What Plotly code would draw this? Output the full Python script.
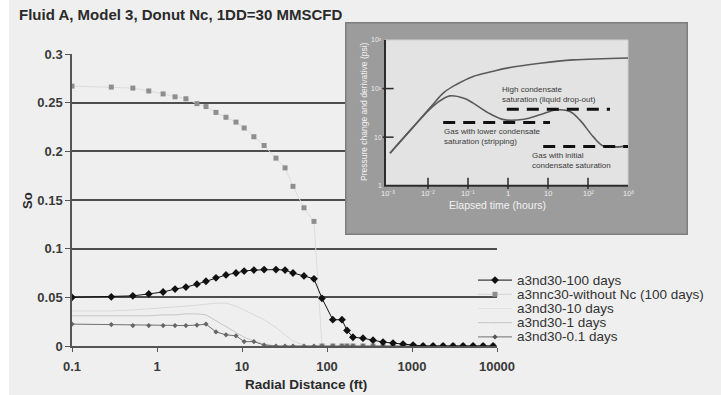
import math
import plotly.graph_objects as go

W, H = 721, 395

# ---------------- main chart data ----------------
radius_ft = [0.1, 0.29, 0.52, 0.8, 1.18, 1.63, 2.19, 2.95, 3.77, 4.94, 6.48, 8.5, 10.6, 13.8,
             18.2, 25.1, 32.1, 39.8, 53.6, 70.3, 87.3, 117, 150, 172, 202, 265, 348, 456, 598,
             784, 1030, 1350, 1770, 2320, 3040, 3990, 5230, 6860, 9000]

so_100d = [0.050, 0.0505, 0.0515, 0.0535, 0.0555, 0.0585, 0.0605, 0.0635, 0.0665, 0.070, 0.073,
           0.075, 0.077, 0.078, 0.0785, 0.0785, 0.078, 0.075, 0.072, 0.069, 0.049, 0.027, 0.027,
           0.016, 0.009, 0.008, 0.006, 0.004, 0.003, 0.002, 0.001, 0, 0, 0, 0, 0, 0, 0, 0]

so_no_nc = [0.267, 0.266, 0.265, 0.262, 0.259, 0.256, 0.254, 0.249, 0.246, 0.240, 0.235, 0.230,
            0.224, 0.215, 0.206, 0.193, 0.183, 0.164, 0.142, 0.128, 0, 0, 0, 0, 0, 0, 0, 0, 0,
            0, 0, 0, 0, 0, 0, 0, 0, 0, 0]

so_10d = [0.036, 0.036, 0.037, 0.038, 0.039, 0.040, 0.041, 0.042, 0.043, 0.044, 0.044, 0.041,
          0.037, 0.032, 0.027, 0.019, 0.011, 0.005, 0.001, 0, 0, 0, 0, 0, 0, 0, 0, 0, 0, 0, 0,
          0, 0, 0, 0, 0, 0, 0, 0]

so_1d = [0.031, 0.031, 0.031, 0.031, 0.032, 0.032, 0.033, 0.033, 0.032, 0.026, 0.020, 0.014,
         0.009, 0.005, 0.002, 0, 0, 0, 0, 0, 0, 0, 0, 0, 0, 0, 0, 0, 0, 0, 0, 0, 0, 0, 0, 0,
         0, 0, 0]

so_01d = [0.0225, 0.022, 0.021, 0.021, 0.021, 0.021, 0.021, 0.0215, 0.0225, 0.0145, 0.0115,
          0.0105, 0.0045, 0.0045, 0.001, 0, 0, 0, 0, 0, 0, 0, 0, 0, 0, 0, 0, 0, 0, 0, 0, 0, 0,
          0, 0, 0, 0, 0, 0]

series_names = ["a3nd30-100 days", "a3nnc30-without Nc (100 days)", "a3nd30-10 days",
                "a3nd30-1 days", "a3nd30-0.1 days"]

x_tick_vals = [0.1, 1, 10, 100, 1000, 10000]
x_tick_text = ["0.1", "1", "10", "100", "1000", "10000"]
y_tick_vals = [0, 0.05, 0.1, 0.15, 0.2, 0.25, 0.3]
y_tick_text = ["0", "0.05", "0.1", "0.15", "0.2", "0.25", "0.3"]

# ---------------- inset (pasted well-test picture) data ----------------
inset_t_dp = [10**-2.95, 10**-2.4, 10**-1.9, 10**-1.6, 10**-1.3, 10**-0.87, 10**-0.4, 10**-0.03,
              10**0.8, 10**1.63, 10**3.0]
inset_dp = [10**0.67, 10**1.18, 10**1.65, 10**1.92, 10**2.08, 10**2.25, 10**2.35, 10**2.42,
            10**2.52, 10**2.59, 10**2.63]
inset_t_der = [10**-2.95, 10**-2.4, 10**-1.9, 10**-1.6, 10**-1.45, 10**-1.1, 10**-0.87, 10**-0.45,
               10**-0.1, 10**0.4, 10**0.8, 10**1.2, 10**1.55, 10**1.8, 10**2.13, 10**2.38, 10**3.0]
inset_der = [10**0.67, 10**1.18, 10**1.62, 10**1.80, 10**1.85, 10**1.80, 10**1.70, 10**1.48,
             10**1.36, 10**1.37, 10**1.46, 10**1.56, 10**1.53, 10**1.35, 10**1.01, 10**0.82,
             10**0.82]
dash_high_t = [10**-0.03, 10**2.55]
dash_high_v = 10**1.574
dash_low_t = [10**-1.62, 10**1.05]
dash_low_v = 10**1.30
dash_init_t = [10**0.88, 10**3.0]
dash_init_v = 10**0.805
inset_x_ticks = [1e-3, 1e-2, 1e-1, 1, 10, 100, 1000]
inset_x_text = ["10⁻³", "10⁻²", "10⁻¹", "1", "10", "10²", "10³"]
inset_y_ticks = [1, 10, 100, 1000]
inset_y_text = ["1", "10", "10²", "10³"]


def pxx(px):
    return px / W


def pxy(py):
    return 1 - py / H


FONT = "Liberation Sans, Arial, sans-serif"
GRID = "#4e4e4e"
TXT = "#333333"

fig = go.Figure()

# ---- main series ----
fig.add_trace(go.Scatter(x=radius_ft, y=so_10d, mode="lines", line=dict(color="#dadada", width=1),
                         showlegend=False, xaxis="x", yaxis="y"))
fig.add_trace(go.Scatter(x=radius_ft, y=so_1d, mode="lines", line=dict(color="#c6c6c6", width=1),
                         showlegend=False, xaxis="x", yaxis="y"))
fig.add_trace(go.Scatter(x=radius_ft, y=so_no_nc, mode="lines+markers",
                         line=dict(color="#dcdcdc", width=1),
                         marker=dict(symbol="square", size=5, color="#8e8e8e"),
                         showlegend=False, xaxis="x", yaxis="y"))
fig.add_trace(go.Scatter(x=radius_ft, y=so_01d, mode="lines+markers",
                         line=dict(color="#707070", width=1),
                         marker=dict(symbol="diamond", size=4, color="#666666"),
                         showlegend=False, xaxis="x", yaxis="y"))
fig.add_trace(go.Scatter(x=radius_ft, y=so_100d, mode="lines+markers",
                         line=dict(color="#111111", width=1),
                         marker=dict(symbol="diamond", size=6, color="#111111"),
                         showlegend=False, xaxis="x", yaxis="y"))

# ---- inset picture (drawn on its own axes so it covers the grid) ----
fx0, fx1, fy0, fy1 = 10**-4.075, 10**4.5, 10**-1.014, 10**3.37
ix0, ix1, iy0, iy1 = 10**-3.075, 10**3.0, 1, 1000
fig.add_trace(go.Scatter(x=[fx0, fx1, fx1, fx0, fx0], y=[fy0, fy0, fy1, fy1, fy0], fill="toself",
                         fillcolor="#9c9c9c", mode="lines", line=dict(color="#7e7e7e", width=3),
                         showlegend=False, hoverinfo="skip", xaxis="x2", yaxis="y2"))
fig.add_trace(go.Scatter(x=[ix0, ix1, ix1, ix0, ix0], y=[iy0, iy0, iy1, iy1, iy0], fill="toself",
                         fillcolor="#e3e3e3", mode="lines", line=dict(color="#cfcfcf", width=1),
                         showlegend=False, hoverinfo="skip", xaxis="x2", yaxis="y2"))
fig.add_trace(go.Scatter(x=[ix0, ix0, ix1], y=[iy1, iy0, iy0], mode="lines",
                         line=dict(color="#2b2b2b", width=2),
                         showlegend=False, hoverinfo="skip", xaxis="x2", yaxis="y2"))
fig.add_trace(go.Scatter(x=inset_x_ticks[1:-1], y=[10**0.05] * 5, mode="markers",
                         marker=dict(symbol="line-ns", size=8, line=dict(color="#2b2b2b", width=1.5)),
                         showlegend=False, hoverinfo="skip", xaxis="x2", yaxis="y2"))
fig.add_trace(go.Scatter(x=[10**-3.0] * 2, y=inset_y_ticks[1:3], mode="markers",
                         marker=dict(symbol="line-ew", size=8, line=dict(color="#2b2b2b", width=1.5)),
                         showlegend=False, hoverinfo="skip", xaxis="x2", yaxis="y2"))
fig.add_trace(go.Scatter(x=inset_t_dp, y=inset_dp, mode="lines", line=dict(color="#5a5a5a", width=1.6, shape="spline"),
                         showlegend=False, hoverinfo="skip", xaxis="x2", yaxis="y2"))
fig.add_trace(go.Scatter(x=inset_t_der, y=inset_der, mode="lines", line=dict(color="#5a5a5a", width=1.6, shape="spline"),
                         showlegend=False, hoverinfo="skip", xaxis="x2", yaxis="y2"))
for xs, v in [(dash_high_t, dash_high_v), (dash_low_t, dash_low_v), (dash_init_t, dash_init_v)]:
    fig.add_trace(go.Scatter(x=xs, y=[v, v], mode="lines",
                             line=dict(color="#111111", width=3, dash="12px,8px"),
                             showlegend=False, hoverinfo="skip", xaxis="x2", yaxis="y2"))

# ---- hand-built legend (on its own hidden axes) ----
leg_styles = [
    dict(line=dict(color="#111111", width=1), marker=dict(symbol="diamond", size=6, color="#111111")),
    dict(line=dict(color="#d4d4d4", width=1), marker=dict(symbol="square", size=5, color="#8e8e8e")),
    dict(line=dict(color="#e2e2e2", width=1), marker=dict(size=1, color="#e2e2e2")),
    dict(line=dict(color="#c6c6c6", width=1), marker=dict(size=1, color="#c6c6c6")),
    dict(line=dict(color="#707070", width=1), marker=dict(symbol="diamond", size=4, color="#555555")),
]
annotations = []
for i, (name, st) in enumerate(zip(series_names, leg_styles)):
    fig.add_trace(go.Scatter(x=[478, 495, 512], y=[i, i, i], mode="lines",
                             line=st["line"], showlegend=False, hoverinfo="skip",
                             xaxis="x3", yaxis="y3"))
    fig.add_trace(go.Scatter(x=[495], y=[i], mode="markers", marker=st["marker"],
                             showlegend=False, hoverinfo="skip", xaxis="x3", yaxis="y3"))
    annotations.append(dict(x=515, y=i, xref="x3", yref="y3", text=name, showarrow=False,
                            xanchor="left", yanchor="middle",
                            font=dict(family=FONT, size=13.5, color=TXT)))

# ---- texts ----
annotations += [
    dict(x=pxx(17), y=pxy(15), xref="paper", yref="paper", text="Fluid A, Model 3, Donut Nc, 1DD=30 MMSCFD",
         showarrow=False, xanchor="left", yanchor="middle",
         font=dict(family=FONT, size=15, color="#2a2a2a", weight="bold")),
    dict(x=pxx(306), y=pxy(384), xref="paper", yref="paper", text="Radial Distance (ft)",
         showarrow=False, xanchor="center", yanchor="middle",
         font=dict(family=FONT, size=13.5, color="#2a2a2a", weight="bold")),
    dict(x=pxx(27), y=pxy(200), xref="paper", yref="paper", text="So", textangle=-90,
         showarrow=False, xanchor="center", yanchor="middle",
         font=dict(family=FONT, size=13, color="#2a2a2a", weight="bold")),
    # inset texts
    dict(x=pxx(364), y=pxy(112), xref="paper", yref="paper", text="Pressure change and derivative (psi)",
         textangle=-90, showarrow=False, xanchor="center", yanchor="middle",
         font=dict(family=FONT, size=8.5, color="#f2f2f2")),
    dict(x=pxx(497), y=pxy(205), xref="paper", yref="paper", text="Elapsed time (hours)",
         showarrow=False, xanchor="center", yanchor="middle",
         font=dict(family=FONT, size=10.5, color="#f2f2f2")),
    dict(x=pxx(500), y=pxy(95), xref="paper", yref="paper",
         text="High condensate<br>saturation (liquid drop-out)", align="left",
         showarrow=False, xanchor="left", yanchor="middle",
         font=dict(family=FONT, size=8, color="#3a3a3a")),
    dict(x=pxx(442), y=pxy(136), xref="paper", yref="paper",
         text="Gas with lower condensate<br>saturation (stripping)", align="left",
         showarrow=False, xanchor="left", yanchor="middle",
         font=dict(family=FONT, size=8, color="#3a3a3a")),
    dict(x=pxx(530), y=pxy(161), xref="paper", yref="paper",
         text="Gas with initial<br>condensate saturation", align="left",
         showarrow=False, xanchor="left", yanchor="middle",
         font=dict(family=FONT, size=8, color="#3a3a3a")),
]
for tv, tt in zip(inset_x_ticks, inset_x_text):
    annotations.append(dict(x=math.log10(tv), y=-0.15, xref="x2", yref="y2", text=tt,
                            showarrow=False, xanchor="center", yanchor="middle",
                            font=dict(family=FONT, size=7.5, color="#ededed")))
for tv, tt in zip(inset_y_ticks, inset_y_text):
    annotations.append(dict(x=-3.11, y=math.log10(tv), xref="x2", yref="y2", text=tt,
                            showarrow=False, xanchor="right", yanchor="middle",
                            font=dict(family=FONT, size=7, color="#ededed")))

fig.update_layout(
    template="none",
    width=W, height=H,
    margin=dict(l=0, r=0, t=0, b=0, pad=0),
    paper_bgcolor="#efefef",
    plot_bgcolor="rgba(0,0,0,0)",
    font=dict(family=FONT, color=TXT),
    showlegend=False,
    xaxis=dict(type="log", domain=[pxx(72), pxx(497)], range=[-1, 4], automargin=False,
               tickvals=x_tick_vals, ticktext=x_tick_text, showgrid=False, zeroline=False,
               showline=True, linecolor="#555555", linewidth=1.5,
               ticks="outside", ticklen=4, tickcolor="#555555", ticklabelstandoff=4,
               tickfont=dict(family=FONT, size=13, color="#3a3a3a", weight="bold"),
               anchor="y"),
    yaxis=dict(domain=[pxy(346), pxy(54)], range=[0, 0.3], automargin=False,
               tickvals=y_tick_vals, ticktext=y_tick_text, showgrid=True, gridcolor=GRID,
               gridwidth=1.5, zeroline=False, showline=True, linecolor="#555555", linewidth=1.5,
               ticks="outside", ticklen=5, tickcolor="#555555",
               tickfont=dict(family=FONT, size=13, color="#3a3a3a", weight="bold"),
               anchor="x"),
    xaxis2=dict(type="log", domain=[pxx(345), pxx(688)], range=[-4.075, 4.5], visible=False,
                automargin=False, anchor="y2"),
    yaxis2=dict(type="log", domain=[pxy(235), pxy(22)], range=[-1.014, 3.37], visible=False,
                automargin=False, anchor="x2"),
    xaxis3=dict(domain=[pxx(470), 1.0], range=[470, 721], visible=False, automargin=False,
                anchor="y3"),
    yaxis3=dict(domain=[pxy(344), pxy(273)], range=[4.5, -0.5], visible=False, automargin=False,
                anchor="x3"),
    annotations=annotations,
    shapes=[dict(type="rect", xref="paper", yref="paper", x0=0, x1=pxx(9), y0=0, y1=1,
                 fillcolor="#ffffff", line=dict(width=0), layer="below")],
)

fig.write_html("out.html", config={"displayModeBar": False},
               post_script="document.body.style.margin='0px';document.body.style.overflow='hidden';")
